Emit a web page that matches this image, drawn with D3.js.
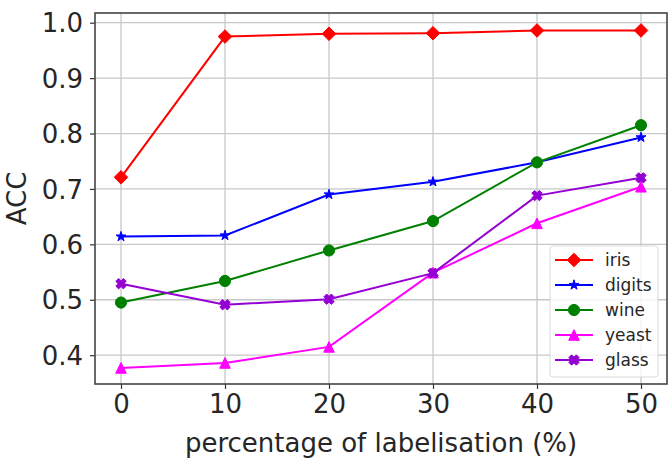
<!DOCTYPE html>
<html>
<head>
<meta charset="utf-8">
<script src="https://cdn.jsdelivr.net/npm/d3@7"></script>
<style>
  html, body { margin: 0; padding: 0; background: #fff; }
  svg { display: block; }
  text { font-family: "DejaVu Sans", sans-serif; fill: #262626; }
</style>
</head>
<body>
<svg id="chart" width="672" height="460"></svg>
<script>
const xValues = [0, 10, 20, 30, 40, 50];
const seriesNames = ["iris", "digits", "wine", "yeast", "glass"];
const iris   = [0.721, 0.975, 0.980, 0.981, 0.986, 0.986];
const digits = [0.614, 0.616, 0.690, 0.713, 0.748, 0.793];
const wine   = [0.495, 0.534, 0.589, 0.642, 0.748, 0.815];
const yeast  = [0.377, 0.386, 0.415, 0.549, 0.638, 0.704];
const glass  = [0.529, 0.491, 0.501, 0.548, 0.688, 0.720];
const xTicks = [0, 10, 20, 30, 40, 50];
const yTicks = [0.4, 0.5, 0.6, 0.7, 0.8, 0.9, 1.0];
const xLabel = "percentage of labelisation (%)";
const yLabel = "ACC";

const seriesValues = [iris, digits, wine, yeast, glass];
const colors = ["#ff0000", "#0000ff", "#008000", "#ff00ff", "#9400d3"];
const markers = ["diamond", "star", "circle", "triangle", "x"];
const markerR = [6.8, 5.2, 5.6, 5.6, 5.6];

const svg = d3.select("#chart");
const L = 95, R = 667, T = 13, B = 384;
const x = d3.scaleLinear().domain([-2.5, 52.5]).range([L, R]);
const y = d3.scaleLinear().domain([0.348, 1.0175]).range([B, T]);

// grid
const grid = svg.append("g");
grid.selectAll(".gx").data(xTicks).join("line")
  .attr("x1", d => x(d)).attr("x2", d => x(d))
  .attr("y1", T).attr("y2", B)
  .attr("stroke", "#c8c8c8").attr("stroke-width", 1.3);
grid.selectAll(".gy").data(yTicks).join("line")
  .attr("x1", L).attr("x2", R)
  .attr("y1", d => y(d)).attr("y2", d => y(d))
  .attr("stroke", "#c8c8c8").attr("stroke-width", 1.3);

// axes
const xAxis = d3.axisBottom(x).tickValues(xTicks).tickFormat(d3.format("d")).tickSize(5).tickPadding(6);
const yAxis = d3.axisLeft(y).tickValues(yTicks).tickFormat(d3.format(".1f")).tickSize(5).tickPadding(7);
const gx = svg.append("g").attr("transform", `translate(0,${B})`).call(xAxis);
const gy = svg.append("g").attr("transform", `translate(${L},0)`).call(yAxis);
[gx, gy].forEach(g => {
  g.select(".domain").remove();
  g.selectAll(".tick line").attr("stroke", "#333").attr("stroke-width", 1.2);
  g.selectAll(".tick text").attr("font-size", 26).attr("font-family", "DejaVu Sans").attr("fill", "#262626");
});
gx.selectAll(".tick text").attr("dy", "0.71em");
gy.selectAll(".tick text").attr("dy", "0.35em");

function markerPath(type, r) {
  if (type === "diamond") {
    return `M0,${-r}L${r},0L0,${r}L${-r},0Z`;
  } else if (type === "triangle") {
    const t = r * 0.95;
    return `M0,${-t}L${t},${t}L${-t},${t}Z`;
  } else if (type === "circle") {
    return d3.symbol(d3.symbolCircle, Math.PI * r * r)();
  } else if (type === "star") {
    return d3.symbol(d3.symbolStar, r * r / 0.8908130915292852)();
  } else {
    const a = r * 0.95, w = r * 0.36;
    const pts = [[-w,-a],[w,-a],[w,-w],[a,-w],[a,w],[w,w],[w,a],[-w,a],[-w,w],[-a,w],[-a,-w],[-w,-w]];
    const c = Math.SQRT1_2;
    return "M" + pts.map(([px, py]) => [(px - py) * c, (px + py) * c].map(v => v.toFixed(2)).join(",")).join("L") + "Z";
  }
}

const line = d3.line().x((d, i) => x(xValues[i])).y(d => y(d));
const plot = svg.append("g");
seriesValues.forEach((vals, si) => {
  const g = plot.append("g");
  g.append("path").datum(vals).attr("d", line)
    .attr("fill", "none").attr("stroke", colors[si]).attr("stroke-width", 2);
  g.selectAll("path.m").data(vals).join("path").attr("class", "m")
    .attr("transform", (d, i) => `translate(${x(xValues[i])},${y(d)})`)
    .attr("d", markerPath(markers[si], markerR[si]))
    .attr("fill", colors[si]).attr("stroke", colors[si]).attr("stroke-width", 1);
});

// spines
svg.append("rect").attr("x", L).attr("y", T).attr("width", R - L).attr("height", B - T)
  .attr("fill", "none").attr("stroke", "#444").attr("stroke-width", 1.6);

// legend
const lg = svg.append("g");
lg.append("rect").attr("x", 550).attr("y", 246).attr("width", 108).attr("height", 131)
  .attr("rx", 3).attr("fill", "#fff").attr("fill-opacity", 0.8)
  .attr("stroke", "#d9d9d9").attr("stroke-width", 1);
seriesNames.forEach((name, i) => {
  const yy = 260 + i * 25;
  lg.append("line").attr("x1", 555).attr("x2", 593).attr("y1", yy).attr("y2", yy)
    .attr("stroke", colors[i]).attr("stroke-width", 2);
  lg.append("path").attr("transform", `translate(574,${yy})`)
    .attr("d", markerPath(markers[i], markerR[i]))
    .attr("fill", colors[i]).attr("stroke", colors[i]).attr("stroke-width", 1);
  lg.append("text").attr("x", 605).attr("y", yy).attr("dy", "0.35em")
    .attr("font-size", 17).text(name);
});

// axis labels
svg.append("text").attr("x", (L + R) / 2).attr("y", 452)
  .attr("text-anchor", "middle").attr("font-size", 26).text(xLabel);
svg.append("text").attr("transform", `translate(26,${(T + B) / 2}) rotate(-90)`)
  .attr("text-anchor", "middle").attr("font-size", 26).text(yLabel);
</script>
</body>
</html>
